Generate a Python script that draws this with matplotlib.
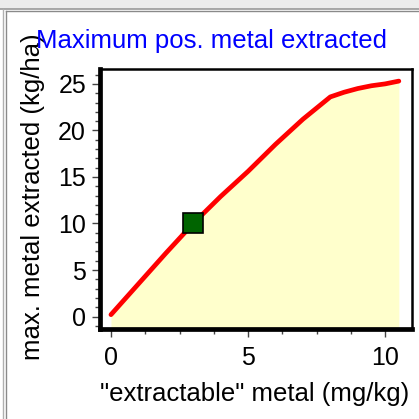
import matplotlib
matplotlib.use("Agg")
import matplotlib.pyplot as plt
from matplotlib.patches import Rectangle
from matplotlib.ticker import MultipleLocator

plt.rcParams['font.family'] = ['Liberation Sans', 'DejaVu Sans']

# "extractable" metal (mg/kg) vs max. metal extracted (kg/ha)
metal_x = [0, 1, 2, 3, 4, 5, 6, 7, 7.5, 8, 8.5, 9, 9.5, 10, 10.5]
extracted_y = [0.2, 3.5, 6.8, 10.0, 12.9, 15.6, 18.5, 21.2, 22.4, 23.6, 24.1, 24.5, 24.8, 25.0, 25.3]
point_x = [3.0]
point_y = [10.0]

fontsize = 18.5
W, H = 419, 419
fig = plt.figure(figsize=(W / 100, H / 100), dpi=100)

# window frame bits
fig.patches.append(Rectangle((0, 1 - 9 / H), 1, 9 / H, transform=fig.transFigure,
                             facecolor='#ececec', edgecolor='none', zorder=0))
fig.lines.append(plt.Line2D([0, 1], [1 - 9.5 / H, 1 - 9.5 / H], transform=fig.transFigure,
                            color='#9a9a9a', lw=1.2))
fig.lines.append(plt.Line2D([3 / W, 3 / W], [0, 1 - 9 / H], transform=fig.transFigure,
                            color='#b0b0b0', lw=1.0))
fig.lines.append(plt.Line2D([6 / W, 6 / W], [0, 1 - 11 / H], transform=fig.transFigure,
                            color='#8a8a8a', lw=1.0))
fig.lines.append(plt.Line2D([6 / W, 1], [1 - 11 / H, 1 - 11 / H], transform=fig.transFigure,
                            color='#8a8a8a', lw=1.0))

ax = fig.add_axes([100 / W, 1 - 329 / H, 312 / W, 260 / H])
ax.set_xlim(-0.40, 10.98)
ax.set_ylim(-1.34, 26.6)

ax.fill_between(metal_x, extracted_y, -5, color='#ffffcc', lw=0, zorder=1)
ax.plot(metal_x, extracted_y, color='red', lw=3.4, solid_capstyle='round', zorder=2)
ax.plot(point_x, point_y, marker='s', ms=14, markerfacecolor='#006400',
        markeredgecolor='black', mew=1.2, ls='none', zorder=3)

ax.xaxis.set_major_locator(MultipleLocator(5))
ax.xaxis.set_minor_locator(MultipleLocator(1.25))
ax.yaxis.set_major_locator(MultipleLocator(5))
ax.yaxis.set_minor_locator(MultipleLocator(1))
ax.tick_params(which='major', length=6, width=1, labelsize=18, pad=4, color='#444444')
ax.tick_params(axis='x', which='major', pad=6)
ax.tick_params(which='minor', length=3.5, width=1, color='#444444')

for side in ['left', 'bottom']:
    ax.spines[side].set_linewidth(3.4)
for side in ['top', 'right']:
    ax.spines[side].set_linewidth(1.8)

ax.set_xlabel('"extractable" metal (mg/kg)', fontsize=fontsize)
ax.set_ylabel('max. metal extracted (kg/ha)', fontsize=fontsize)
ax.xaxis.set_label_coords(0.494, -0.204)
ax.yaxis.set_label_coords(-0.176, 0.51)
fig.text(212 / W, 1 - 41 / H, 'Maximum pos. metal extracted', color='#0000ff',
         fontsize=fontsize, ha='center', va='center')

plt.savefig("out.png", dpi=100)
